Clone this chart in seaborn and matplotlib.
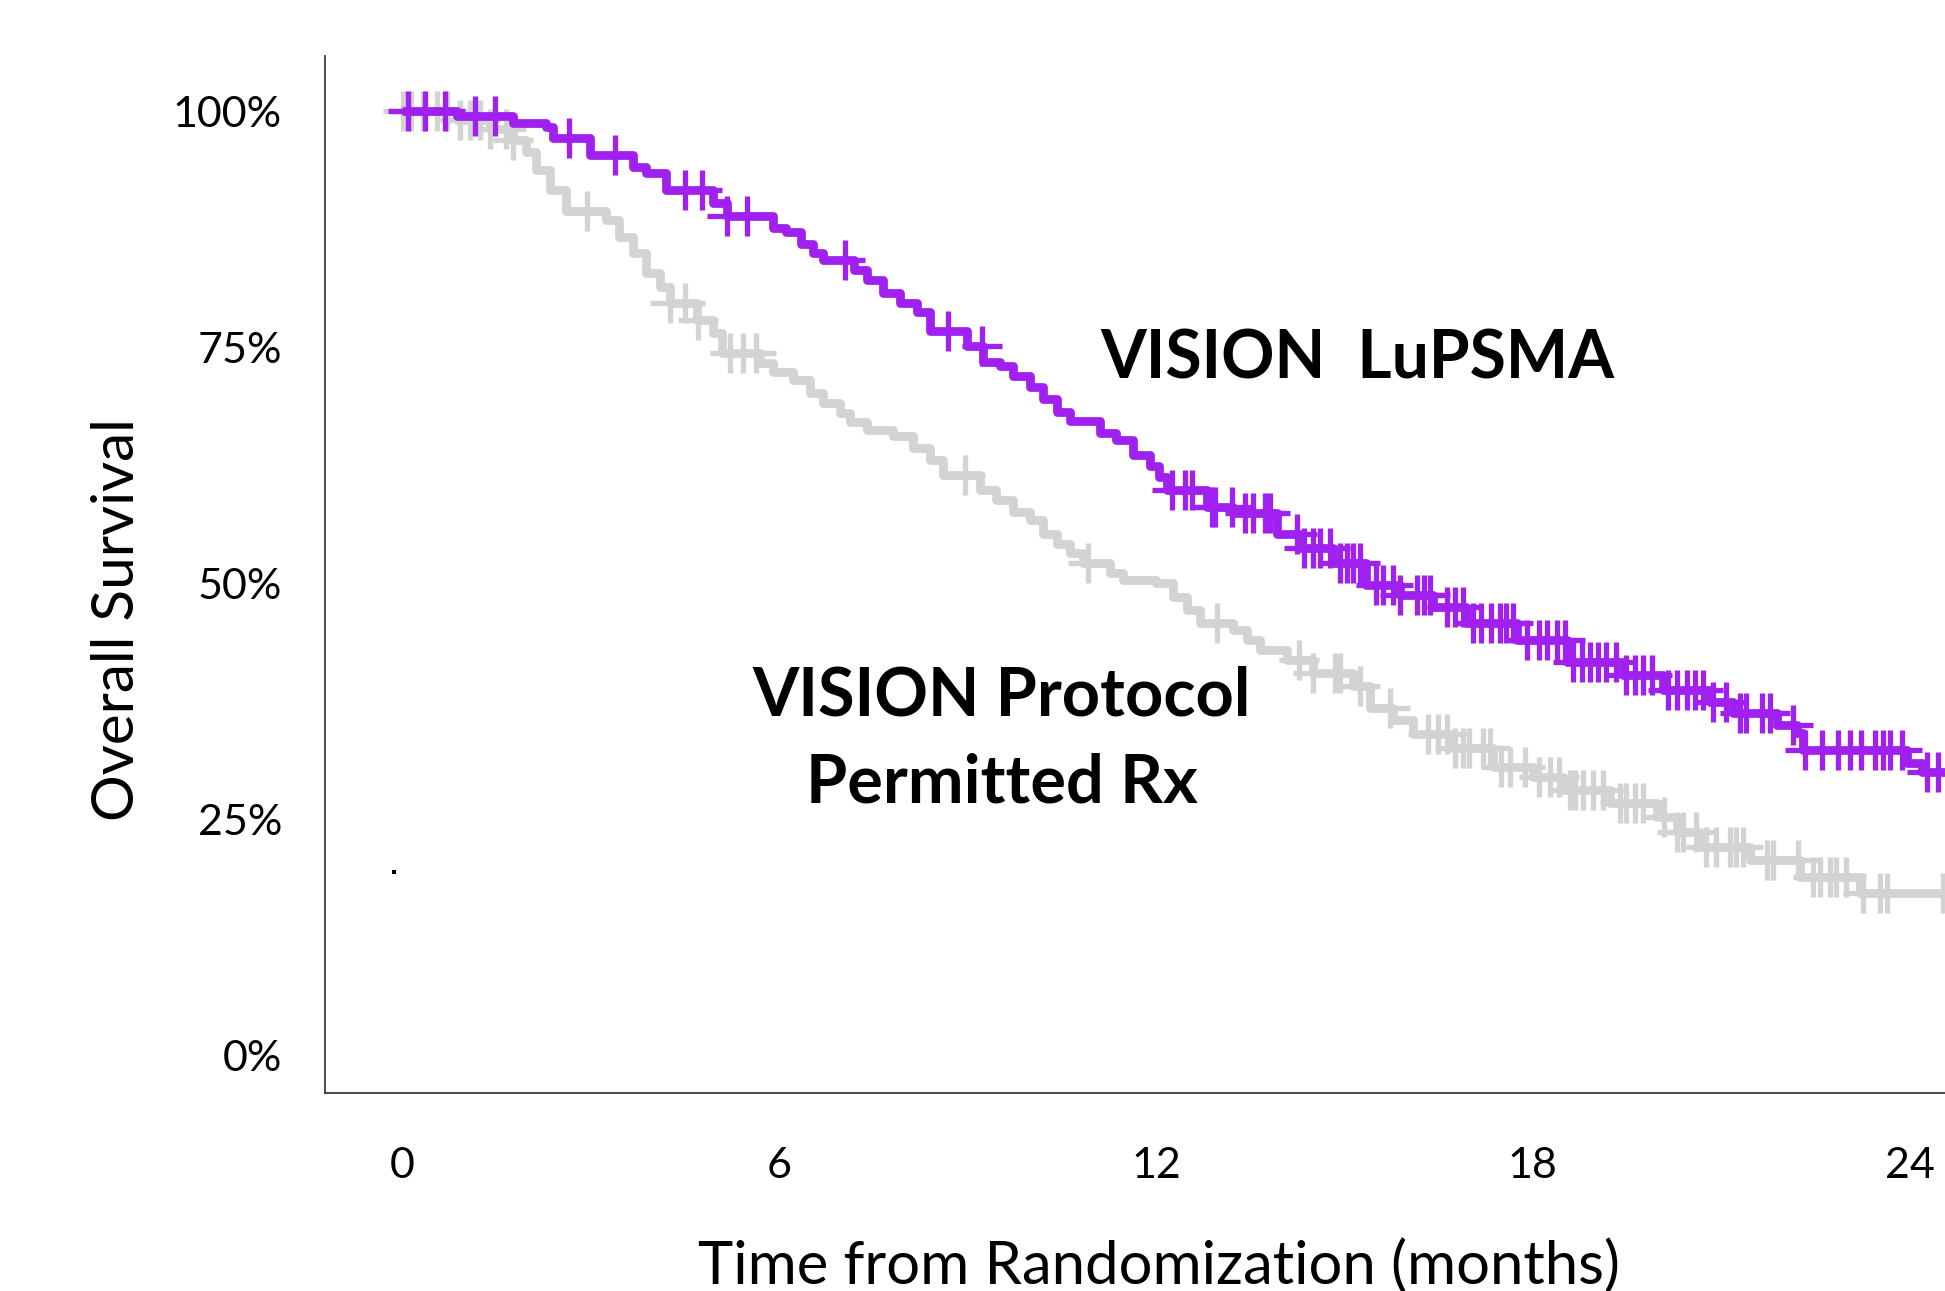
import numpy as np
import pandas as pd
import matplotlib
matplotlib.use("Agg")
import matplotlib.pyplot as plt
import seaborn as sns

# ---------------- data (months, overall survival %) ----------------
lu_time = [0, 0.87, 1.77, 2.30, 2.41, 2.99, 3.68, 3.89, 4.21, 4.95, 5.17, 5.91, 6.12,
           6.35, 6.55, 6.70, 7.20, 7.40, 7.66, 7.93, 8.19, 8.40, 8.99, 9.25, 9.52, 9.73,
           9.99, 10.21, 10.42, 10.63, 11.11, 11.37, 11.64, 11.90, 12.05, 12.17, 12.81,
           13.23, 13.92, 14.29, 14.82, 15.35, 15.88, 16.41, 16.94, 17.74, 18.54, 19.44,
           20.07, 20.82, 21.19, 21.89, 22.20, 22.30, 23.96, 24.20, 24.60]
lu_surv = [100, 99.5, 98.8, 98.4, 97.2, 95.4, 94.1, 93.5, 91.7, 90.3, 88.9, 87.7, 87.2,
           86.0, 85.0, 84.3, 83.2, 82.2, 80.8, 79.7, 78.8, 76.7, 75.2, 73.5, 73.0, 72.0,
           70.8, 69.5, 68.2, 67.2, 66.0, 65.2, 63.6, 62.4, 61.3, 59.9, 58.1,
           57.5, 55.3, 53.8, 52.2, 49.9, 48.8, 47.5, 45.8, 44.0, 41.7, 40.3,
           38.7, 37.5, 36.3, 35.0, 34.2, 32.4, 31.0, 30.0, 30.0]
lu_censor = [0.10, 0.37, 0.68, 1.16, 1.48, 2.66, 3.39, 4.50, 4.77, 5.17, 5.49, 7.05, 8.69, 9.23,
             12.25, 12.46, 12.57, 12.89, 12.94, 13.21, 13.42, 13.55, 13.74, 13.82, 14.24,
             14.35, 14.50, 14.61, 14.77, 14.93, 15.04, 15.14, 15.25, 15.51, 15.62, 15.78,
             15.88, 16.15, 16.26, 16.36, 16.63, 16.76, 16.89, 17.05, 17.18, 17.34, 17.48,
             17.58, 17.69, 17.90, 18.09, 18.22, 18.38, 18.51, 18.64, 18.78, 18.91, 19.04,
             19.17, 19.33, 19.49, 19.62, 19.76, 19.89, 20.15, 20.29, 20.45, 20.58, 20.71,
             20.87, 21.08, 21.30, 21.40, 21.64, 21.77, 22.14, 22.33, 22.60, 22.86, 23.05,
             23.23, 23.44, 23.58, 23.68, 23.87, 24.27, 24.45]

soc_time = [0, 0.87, 1.40, 1.77, 1.98, 2.14, 2.35, 2.61, 3.25, 3.46, 3.68, 3.89, 4.10,
            4.26, 4.69, 4.95, 5.10, 5.70, 5.91, 6.23, 6.49, 6.70, 6.97, 7.13, 7.40, 7.82,
            8.14, 8.40, 8.61, 9.20, 9.46, 9.73, 9.99, 10.21, 10.42, 10.63, 10.84, 11.27,
            11.48, 12.00, 12.27, 12.49, 12.70, 13.23, 13.45, 13.66, 14.08, 14.50, 15.14,
            15.41, 15.77, 16.10, 16.70, 17.37, 18.00, 18.48, 19.23, 19.97, 20.29, 20.66,
            21.45, 22.25, 23.20, 24.60]
soc_surv = [100, 99.1, 98.1, 97.0, 95.7, 93.8, 91.7, 89.5, 88.5, 86.7, 85.0, 82.9, 81.4,
            79.7, 77.9, 76.5, 74.4, 73.4, 72.4, 71.6, 70.2, 69.1, 68.1, 67.1, 66.3, 65.6,
            64.4, 63.1, 61.5, 59.9, 58.9, 57.6, 56.7, 55.3, 54.2, 53.2, 52.2, 51.1,
            50.4, 50.1, 48.6, 47.2, 45.8, 45.1, 44.0, 43.0, 41.9, 40.5, 39.1,
            36.8, 35.5, 34.1, 32.6, 30.6, 29.5, 28.1, 26.8, 25.3, 23.7, 22.1,
            20.7, 18.9, 17.2, 17.2]
soc_censor = [0.02, 0.15, 0.34, 0.55, 0.71, 0.92, 1.08, 1.24, 1.40, 1.66, 1.77, 2.94, 4.26,
              4.50, 4.71, 5.22, 5.43, 5.64, 8.96, 10.92, 12.97, 14.27, 14.50, 14.85, 14.93,
              15.25, 15.72, 16.33, 16.49, 16.63, 16.76, 16.89, 16.99, 17.21, 17.32, 17.50,
              17.64, 17.87, 18.09, 18.27, 18.41, 18.59, 18.67, 18.80, 18.96, 19.12, 19.39,
              19.49, 19.62, 19.76, 20.08, 20.29, 20.39, 20.60, 20.76, 20.92, 21.14, 21.24,
              21.35, 21.72, 21.83, 22.22, 22.46, 22.57, 22.73, 22.83, 22.99, 23.26, 23.53,
              23.63, 24.53]

stray_x = [-0.12]
stray_y = [19.4]

x_ticks = [0, 6, 12, 18, 24]
y_ticks = [0, 25, 50, 75, 100]
y_ticklabels = ["0%", "25%", "50%", "75%", "100%"]

label_lu = "VISION  LuPSMA"
label_soc = "VISION Protocol\nPermitted Rx"

PURPLE = "#A020F0"
GRAY = "#D3D3D3"


def step_value(times, surv, t):
    idx = np.searchsorted(np.asarray(times), np.asarray(t), side="right") - 1
    return np.asarray(surv)[np.clip(idx, 0, len(surv) - 1)]


curves = pd.DataFrame({
    "time": lu_time + soc_time,
    "surv": lu_surv + soc_surv,
    "arm": ["lu"] * len(lu_time) + ["soc"] * len(soc_time),
})
cens = pd.DataFrame({
    "time": lu_censor + soc_censor,
    "surv": list(step_value(lu_time, lu_surv, lu_censor)) + list(step_value(soc_time, soc_surv, soc_censor)),
    "arm": ["lu"] * len(lu_censor) + ["soc"] * len(soc_censor),
})

# ---------------- style ----------------
sns.set_theme(style="white")
plt.rcParams["font.family"] = ["Lato", "DejaVu Sans"]

fig = plt.figure(figsize=(19.45, 12.91), dpi=100)
ax = fig.add_axes([0.1671, 0.1534, 0.8329, 0.8034])

for arm, color, z in [("soc", GRAY, 2), ("lu", PURPLE, 3)]:
    d = curves[curves.arm == arm]
    sns.lineplot(data=d, x="time", y="surv", ax=ax, color=color, linewidth=6.3,
                 drawstyle="steps-post", estimator=None, sort=False, zorder=z,
                 solid_capstyle="butt")
    c = cens[cens.arm == arm]
    sns.scatterplot(data=c, x="time", y="surv", ax=ax, color=color, marker="+",
                    s=820, linewidth=3.8, zorder=z, legend=False)

sns.scatterplot(x=stray_x, y=stray_y, ax=ax, color="black", s=6, marker="s",
                linewidth=0, zorder=4, legend=False)

ax.set_xlim(-1.225, 24.56)
ax.set_ylim(-3.95, 105.9)
ax.set_xticks(x_ticks)
ax.set_xticklabels([str(v) for v in x_ticks])
ax.set_yticks(y_ticks)
ax.set_yticklabels(y_ticklabels)

for s in ["top", "right"]:
    ax.spines[s].set_visible(False)
for s in ["left", "bottom"]:
    ax.spines[s].set_color("#3a3a3a")
    ax.spines[s].set_linewidth(1.3)

ax.tick_params(axis="both", direction="out", length=22, width=1.3, colors="#3a3a3a",
               labelcolor="black", labelsize=31)
ax.tick_params(axis="x", pad=17)
ax.tick_params(axis="y", pad=9)

ax.set_xlabel("Time from Randomization (months)", fontsize=43, color="black")
ax.set_ylabel("Overall Survival", fontsize=42, color="black")
ax.xaxis.set_label_coords(0.515, -0.14)
ax.yaxis.set_label_coords(-0.112, 0.456)

ax.text(15.2, 73.7, label_lu, fontsize=47.5, fontweight="bold", ha="center", va="center",
        color="black")
ax.text(9.55, 33.4, label_soc, fontsize=48, fontweight="bold", ha="center", va="center",
        color="black", linespacing=1.5)

fig.savefig("out.png", dpi=100)
